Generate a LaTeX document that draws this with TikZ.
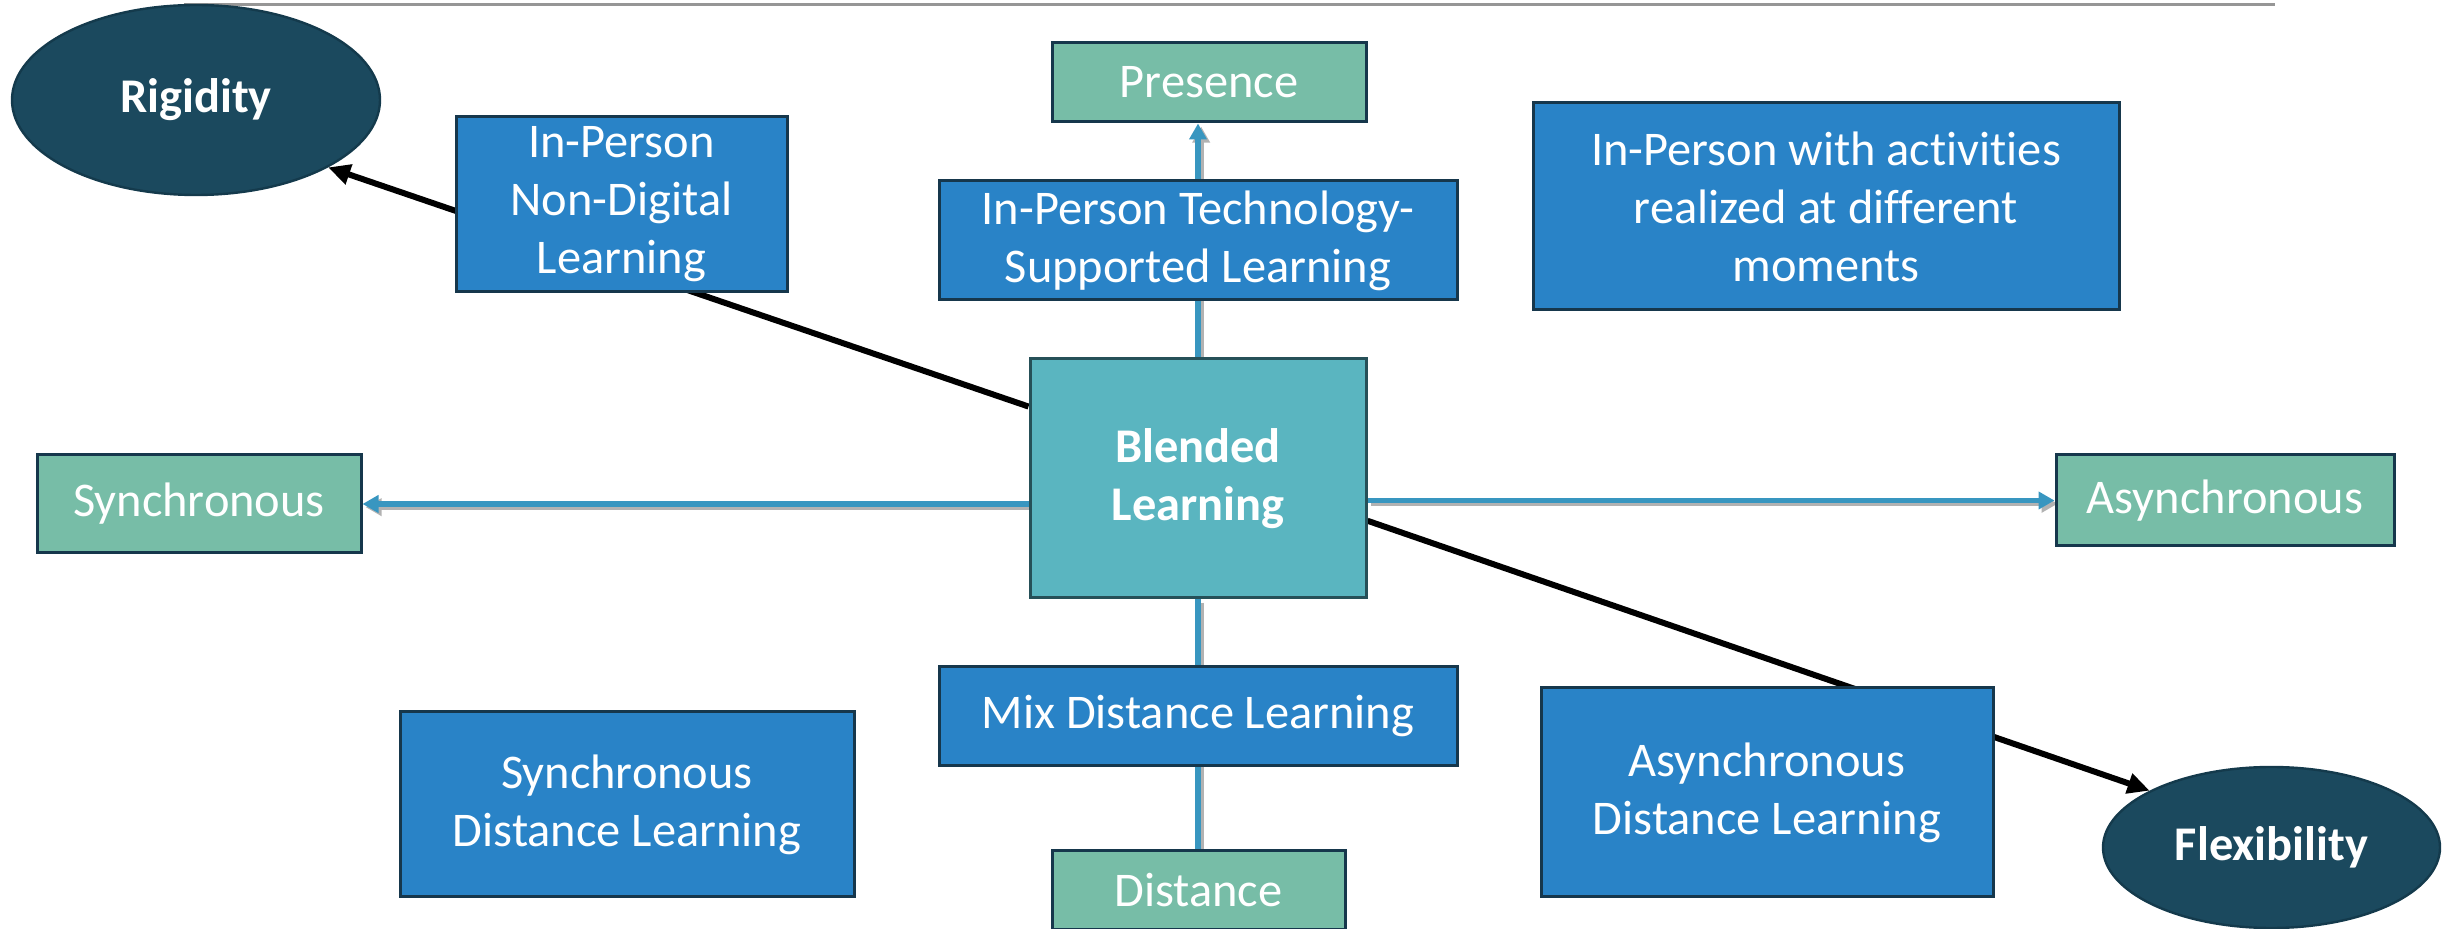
\documentclass[tikz,border=0pt]{standalone}
\usepackage{fontspec}
\setmainfont{Carlito}[Ligatures=NoCommon]
\usetikzlibrary{shapes.geometric,arrows.meta,backgrounds}
\definecolor{boxblue}{RGB}{41,131,199}
\definecolor{boxline}{RGB}{22,55,76}
\definecolor{polegreen}{RGB}{119,189,167}
\definecolor{coreteal}{RGB}{90,181,192}
\definecolor{coreline}{RGB}{38,80,88}
\definecolor{poledark}{RGB}{27,73,94}
\definecolor{poleline}{RGB}{20,58,76}
\definecolor{linkblue}{RGB}{56,150,192}
\definecolor{rulegray}{RGB}{150,150,150}

\begin{document}
\begin{tikzpicture}[x=0.5pt,y=-0.5pt,
  txt/.style={text=white, font=\fontsize{24.2}{29}\selectfont, align=center, inner sep=0pt},
  mode/.style={txt, rectangle, draw=boxline, line width=1.5pt, fill=boxblue},
  pole/.style={txt, rectangle, draw=boxline, line width=1.5pt, fill=polegreen},
  core/.style={txt, rectangle, draw=coreline, line width=1.5pt, fill=coreteal,
    font=\fontsize{24.2}{29}\selectfont\bfseries},
  extreme/.style={txt, ellipse, draw=poleline, line width=1.2pt, fill=poledark,
    font=\fontsize{24.2}{29}\selectfont\bfseries},
  axis/.style={draw=linkblue, line width=2.8pt,
    preaction={draw=black!30, line width=2.8pt, transform canvas={shift={(1.6pt,-1.6pt)}}}},
  axisarrow/.style={axis, -{Triangle[length=8pt,width=8.5pt]}},
  trend/.style={draw=black, line width=3pt, -{Triangle[length=11pt,width=10pt]}}
]
\useasboundingbox (0,0) rectangle (2443,929);

% rule along the top
\draw[rulegray, line width=1.5pt] (184,5) -- (2275,5);

% the two extremes
\node[extreme, minimum width=184pt, minimum height=95pt] (rigidity) at (196,100) {Rigidity};
\node[extreme, minimum width=168.5pt, minimum height=80.5pt] (flexibility) at (2271.5,847.5) {Flexibility};

% centre
\node[core, minimum width=168pt, minimum height=119.5pt] (core) at (1198,478.5) {Blended\\Learning};

% poles of the two axes
\node[pole, minimum width=157pt, minimum height=39.5pt] (presence) at (1209,82.5) {Presence};
\node[pole, minimum width=146.5pt, minimum height=39.5pt] (distance) at (1198.5,890.5) {Distance};
\node[pole, minimum width=162pt, minimum height=49pt] (sync) at (199,504) {Synchronous};
\node[pole, minimum width=169pt, minimum height=45.5pt] (async) at (2225,500.5) {Asynchronous};

% learning modalities
\node[mode, minimum width=165.5pt, minimum height=87.5pt] (nondigital) at (621.5,204.5) {In-Person\\Non-Digital\\Learning};
\node[mode, minimum width=259pt, minimum height=59.5pt] (techsup) at (1198,240.5) {In-Person Technology-\\Supported Learning};
\node[mode, minimum width=293pt, minimum height=103.5pt] (activities) at (1826,206.5) {In-Person with activities\\realized at different\\moments};
\node[mode, minimum width=259pt, minimum height=49.5pt] (mix) at (1198,716.5) {Mix Distance Learning};
\node[mode, minimum width=227pt, minimum height=92.5pt] (syncdist) at (627,804.5) {Synchronous\\Distance Learning};
\node[mode, minimum width=226pt, minimum height=104.5pt] (asyncdist) at (1767,792.5) {Asynchronous\\Distance Learning};

% connectors, kept behind the boxes
\begin{scope}[on background layer]
  \draw[axisarrow] (core.north) -- (core.north |- presence.south);
  \draw[axis] (core.south) -- (core.south |- distance.north);
  \draw[axisarrow] (core.west |- sync.east) -- (sync.east);
  \draw[axisarrow] (core.east |- async.west) -- (async.west);
  \draw[trend] (core.157) -- (rigidity.-27);
  \draw[trend] (core.-14.5) -- (flexibility.155.6);
\end{scope}
\end{tikzpicture}
\end{document}
